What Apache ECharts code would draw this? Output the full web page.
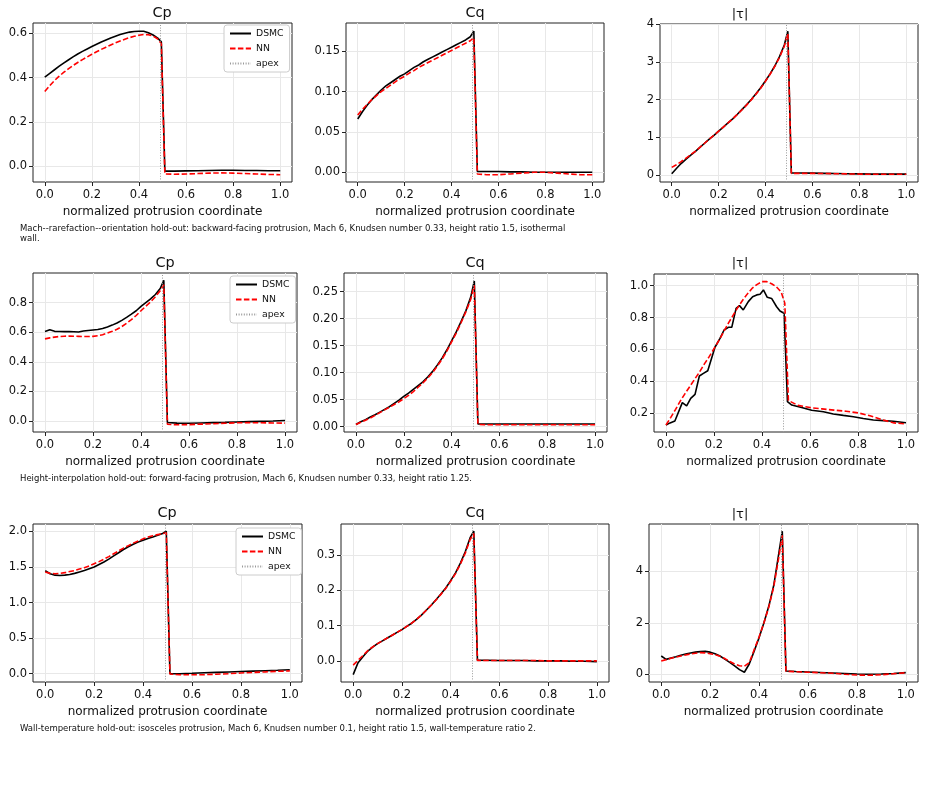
<!DOCTYPE html>
<html>
<head>
<meta charset="utf-8">
<script src="https://cdn.jsdelivr.net/npm/echarts@6.0.0/dist/echarts.min.js"></script>
<style>
  html, body { margin: 0; padding: 0; background: #fff; }
  #chart { width: 925px; height: 795px; }
</style>
</head>
<body>
<div id="chart"></div>
<script>
// shared sample positions along the surface
const xs = [0, 0.02, 0.04, 0.06, 0.08, 0.10, 0.12, 0.14, 0.16, 0.18, 0.20, 0.22, 0.24, 0.26, 0.28, 0.30, 0.32, 0.34, 0.36, 0.38, 0.40, 0.42, 0.44, 0.46, 0.48, 0.495,
  0.51, 0.55, 0.60, 0.65, 0.70, 0.75, 0.80, 0.85, 0.90, 0.95, 1.0];
const xTicks = [0, 0.2, 0.4, 0.6, 0.8, 1.0];
const apexX = [0.495, 0.494, 0.494];

// row 1 : Mach--rarefaction--orientation hold-out
const cp1Dsmc = [0.402, 0.418, 0.434, 0.450, 0.465, 0.479, 0.493, 0.506, 0.518, 0.529, 0.540, 0.550, 0.560, 0.569, 0.578, 0.586, 0.594, 0.600, 0.605, 0.608, 0.609, 0.609, 0.602, 0.592, 0.578, 0.561,
  -0.022, -0.022, -0.021, -0.020, -0.019, -0.018, -0.018, -0.019, -0.019, -0.020, -0.020];
const cp1Nn = [0.337, 0.362, 0.385, 0.405, 0.423, 0.439, 0.454, 0.468, 0.481, 0.493, 0.505, 0.516, 0.527, 0.537, 0.547, 0.556, 0.565, 0.573, 0.580, 0.586, 0.591, 0.594, 0.593, 0.587, 0.574, 0.552,
  -0.035, -0.036, -0.035, -0.033, -0.031, -0.030, -0.031, -0.033, -0.035, -0.037, -0.038];
const cq1Dsmc = [0.066, 0.075, 0.083, 0.090, 0.096, 0.102, 0.107, 0.111, 0.115, 0.119, 0.122, 0.126, 0.130, 0.133, 0.137, 0.140, 0.143, 0.146, 0.149, 0.152, 0.155, 0.158, 0.161, 0.164, 0.168, 0.175,
  0.001, 0.001, 0.001, 0.0005, 0.0005, 0.0, 0.0, 0.0, 0.0, 0.0, 0.0];
const cq1Nn = [0.071, 0.078, 0.084, 0.090, 0.095, 0.100, 0.104, 0.108, 0.112, 0.116, 0.119, 0.123, 0.126, 0.130, 0.133, 0.136, 0.139, 0.142, 0.145, 0.148, 0.151, 0.154, 0.157, 0.160, 0.163, 0.167,
  -0.002, -0.003, -0.003, -0.002, -0.001, 0.0, 0.0, -0.001, -0.002, -0.003, -0.003];
const tau1Dsmc = [0.03, 0.17, 0.30, 0.41, 0.52, 0.62, 0.73, 0.84, 0.95, 1.05, 1.16, 1.27, 1.38, 1.49, 1.61, 1.74, 1.87, 2.01, 2.16, 2.32, 2.50, 2.69, 2.90, 3.15, 3.45, 3.82,
  0.05, 0.05, 0.045, 0.04, 0.035, 0.03, 0.025, 0.02, 0.02, 0.02, 0.02];
const tau1Nn = [0.20, 0.27, 0.35, 0.44, 0.53, 0.625, 0.73, 0.84, 0.95, 1.05, 1.16, 1.27, 1.38, 1.49, 1.61, 1.73, 1.86, 2.00, 2.15, 2.31, 2.49, 2.68, 2.89, 3.13, 3.42, 3.76,
  0.04, 0.04, 0.04, 0.035, 0.03, 0.025, 0.02, 0.015, 0.015, 0.015, 0.015];

// row 2 : height-interpolation hold-out
const cp2Dsmc = [0.605, 0.617, 0.606, 0.605, 0.604, 0.605, 0.603, 0.601, 0.608, 0.612, 0.615, 0.618, 0.625, 0.636, 0.648, 0.662, 0.680, 0.700, 0.722, 0.745, 0.775, 0.800, 0.825, 0.855, 0.895, 0.951,
  -0.010, -0.014, -0.015, -0.013, -0.011, -0.009, -0.006, -0.004, -0.002, 0.0, 0.004];
const cp2Nn = [0.555, 0.562, 0.567, 0.571, 0.573, 0.574, 0.573, 0.572, 0.571, 0.571, 0.572, 0.576, 0.583, 0.594, 0.606, 0.620, 0.638, 0.660, 0.685, 0.713, 0.745, 0.775, 0.805, 0.840, 0.880, 0.920,
  -0.022, -0.025, -0.024, -0.021, -0.018, -0.015, -0.012, -0.011, -0.012, -0.013, -0.014];
const cq2Dsmc = [0.004, 0.009, 0.013, 0.018, 0.022, 0.027, 0.032, 0.037, 0.043, 0.049, 0.056, 0.062, 0.069, 0.076, 0.083, 0.092, 0.102, 0.114, 0.127, 0.142, 0.159, 0.176, 0.195, 0.215, 0.240, 0.270,
  0.005, 0.005, 0.005, 0.005, 0.005, 0.005, 0.005, 0.005, 0.005, 0.005, 0.005];
const cq2Nn = [0.004, 0.008, 0.012, 0.016, 0.021, 0.026, 0.031, 0.036, 0.041, 0.046, 0.052, 0.058, 0.065, 0.073, 0.081, 0.090, 0.100, 0.112, 0.125, 0.140, 0.157, 0.174, 0.193, 0.213, 0.236, 0.262,
  0.004, 0.0035, 0.0035, 0.0035, 0.0035, 0.0035, 0.0035, 0.0035, 0.0035, 0.0035, 0.0035];
// the DSMC shear curve here is noisy and sampled on its own positions
const tau2X = [0, 0.017, 0.037, 0.068, 0.086, 0.103, 0.121, 0.139, 0.156, 0.174, 0.204, 0.225, 0.242, 0.26, 0.274, 0.292, 0.306, 0.322, 0.343, 0.361, 0.378, 0.392, 0.406, 0.422, 0.44, 0.461, 0.475, 0.492,
  0.506, 0.524, 0.565, 0.607, 0.656, 0.697, 0.739, 0.781, 0.822, 0.864, 0.906, 0.947, 1.0];
const tau2Dsmc = [0.127, 0.14, 0.152, 0.267, 0.246, 0.294, 0.319, 0.434, 0.45, 0.467, 0.614, 0.67, 0.722, 0.739, 0.739, 0.858, 0.875, 0.848, 0.90, 0.931, 0.942, 0.946, 0.973, 0.927, 0.92, 0.868, 0.841, 0.827,
  0.273, 0.252, 0.236, 0.219, 0.21, 0.196, 0.187, 0.179, 0.168, 0.158, 0.154, 0.15, 0.141];
const tau2Nn = [0.127, 0.175, 0.225, 0.278, 0.325, 0.370, 0.415, 0.460, 0.510, 0.555, 0.605, 0.655, 0.710, 0.765, 0.815, 0.865, 0.910, 0.950, 0.985, 1.008, 1.025, 1.025, 1.012, 0.993, 0.960, 0.890,
  0.280, 0.250, 0.236, 0.228, 0.220, 0.213, 0.203, 0.185, 0.160, 0.140, 0.133];

// row 3 : wall-temperature hold-out
const cp3Dsmc = [1.447, 1.405, 1.385, 1.380, 1.385, 1.395, 1.410, 1.430, 1.450, 1.475, 1.500, 1.535, 1.570, 1.610, 1.655, 1.700, 1.745, 1.785, 1.820, 1.850, 1.875, 1.900, 1.920, 1.945, 1.970, 2.003,
  0.000, 0.000, 0.005, 0.012, 0.018, 0.024, 0.030, 0.036, 0.042, 0.048, 0.055];
const cp3Nn = [1.430, 1.410, 1.405, 1.410, 1.420, 1.435, 1.450, 1.470, 1.490, 1.515, 1.545, 1.575, 1.610, 1.645, 1.685, 1.725, 1.765, 1.800, 1.835, 1.865, 1.895, 1.920, 1.940, 1.955, 1.970, 1.980,
  -0.005, -0.015, -0.016, -0.013, -0.008, 0.0, 0.010, 0.018, 0.025, 0.033, 0.040];
const cq3Dsmc = [-0.039, -0.005, 0.012, 0.028, 0.039, 0.049, 0.057, 0.065, 0.073, 0.081, 0.089, 0.098, 0.107, 0.118, 0.130, 0.144, 0.158, 0.174, 0.190, 0.207, 0.228, 0.250, 0.278, 0.310, 0.350, 0.369,
  0.002, 0.002, 0.001, 0.001, 0.001, 0.0, 0.0, 0.0, -0.001, -0.001, -0.002];
const cq3Nn = [-0.012, 0.002, 0.015, 0.029, 0.040, 0.049, 0.057, 0.065, 0.073, 0.081, 0.089, 0.098, 0.107, 0.118, 0.130, 0.144, 0.158, 0.173, 0.189, 0.206, 0.226, 0.248, 0.275, 0.306, 0.345, 0.362,
  0.001, 0.001, 0.001, 0.001, 0.001, 0.001, 0.0, 0.0, 0.0, 0.0, 0.0];
const tau3Dsmc = [0.71, 0.58, 0.63, 0.68, 0.74, 0.79, 0.83, 0.86, 0.88, 0.89, 0.86, 0.80, 0.71, 0.59, 0.46, 0.33, 0.18, 0.08, 0.40, 0.90, 1.42, 2.00, 2.65, 3.45, 4.65, 5.56,
  0.13, 0.11, 0.09, 0.07, 0.05, 0.03, 0.01, 0.00, 0.01, 0.03, 0.065];
const tau3Nn = [0.52, 0.57, 0.62, 0.67, 0.71, 0.75, 0.79, 0.82, 0.84, 0.83, 0.80, 0.76, 0.70, 0.61, 0.50, 0.40, 0.33, 0.31, 0.45, 0.95, 1.45, 2.00, 2.62, 3.40, 4.50, 5.40,
  0.12, 0.10, 0.08, 0.06, 0.04, 0.00, -0.03, -0.04, -0.02, 0.02, 0.06];

// y tick labels
const cp1Ticks = [0, 0.2, 0.4, 0.6];
const cq1Ticks = [0, 0.05, 0.10, 0.15];
const tau1Ticks = [0, 1, 2, 3, 4];
const cp2Ticks = [0, 0.2, 0.4, 0.6, 0.8];
const cq2Ticks = [0, 0.05, 0.10, 0.15, 0.20, 0.25];
const tau2Ticks = [0.2, 0.4, 0.6, 0.8, 1.0];
const cp3Ticks = [0, 0.5, 1.0, 1.5, 2.0];
const cq3Ticks = [0, 0.1, 0.2, 0.3];
const tau3Ticks = [0, 2, 4];

const captions = [
  ['Mach--rarefaction--orientation hold-out: backward-facing protrusion, Mach 6, Knudsen number 0.33, height ratio 1.5, isothermal', 'wall.'],
  ['Height-interpolation hold-out: forward-facing protrusion, Mach 6, Knudsen number 0.33, height ratio 1.25.'],
  ['Wall-temperature hold-out: isosceles protrusion, Mach 6, Knudsen number 0.1, height ratio 1.5, wall-temperature ratio 2.']
];

const FONT = 'DejaVu Sans';

// one entry per subplot: frame [left, top, width, height], title position, y range
const panels = [
  { box: [33, 23, 259, 159], title: 'Cp', tx: 162, ty: 13, dX: xs, d: cp1Dsmc, n: cp1Nn, y: [-0.071, 0.646], ticks: cp1Ticks, dec: 1, apex: apexX[0], legend: [224, 25] },
  { box: [346, 23, 258, 159], title: 'Cq', tx: 475, ty: 13, dX: xs, d: cq1Dsmc, n: cq1Nn, y: [-0.012, 0.185], ticks: cq1Ticks, dec: 2, apex: apexX[0] },
  { box: [660, 24, 258, 158], title: '|τ|', tx: 740, ty: 15, dX: xs, d: tau1Dsmc, n: tau1Nn, y: [-0.19, 4.01], ticks: tau1Ticks, dec: 0, apex: apexX[0] },
  { box: [33, 273, 264, 159], title: 'Cp', tx: 165, ty: 263, dX: xs, d: cp2Dsmc, n: cp2Nn, y: [-0.074, 1.0], ticks: cp2Ticks, dec: 1, apex: apexX[1], legend: [230, 276] },
  { box: [344, 273, 263, 159], title: 'Cq', tx: 475, ty: 263, dX: xs, d: cq2Dsmc, n: cq2Nn, y: [-0.0099, 0.2847], ticks: cq2Ticks, dec: 2, apex: apexX[1] },
  { box: [654, 274, 264, 158], title: '|τ|', tx: 740, ty: 264, dX: tau2X, d: tau2Dsmc, n: tau2Nn, y: [0.083, 1.073], ticks: tau2Ticks, dec: 1, apex: apexX[1] },
  { box: [33, 524, 269, 158], title: 'Cp', tx: 167, ty: 513, dX: xs, d: cp3Dsmc, n: cp3Nn, y: [-0.117, 2.104], ticks: cp3Ticks, dec: 1, apex: apexX[2], legend: [236, 528] },
  { box: [341, 524, 268, 158], title: 'Cq', tx: 475, ty: 513, dX: xs, d: cq3Dsmc, n: cq3Nn, y: [-0.06, 0.389], ticks: cq3Ticks, dec: 1, apex: apexX[2] },
  { box: [649, 524, 269, 158], title: '|τ|', tx: 740, ty: 515, dX: xs, d: tau3Dsmc, n: tau3Nn, y: [-0.30, 5.84], ticks: tau3Ticks, dec: 0, apex: apexX[2] }
];

const zip = (a, b) => a.map((v, i) => [v, b[i]]);

const grid = [], xAxis = [], yAxis = [], series = [], legend = [], graphic = [];

panels.forEach((p, i) => {
  grid.push({
    left: p.box[0], top: p.box[1], width: p.box[2], height: p.box[3],
    show: true, borderColor: '#222', borderWidth: 1, backgroundColor: 'transparent'
  });
  xAxis.push({
    gridIndex: i, type: 'value', min: -0.05, max: 1.05,
    axisLine: { show: false, onZero: false },
    axisTick: { show: true, inside: false, customValues: xTicks, length: 4, lineStyle: { color: '#222' } },
    axisLabel: { customValues: xTicks, formatter: v => v.toFixed(1), fontFamily: FONT, fontSize: 11.5, color: '#111', margin: 7 },
    splitLine: { show: true, lineStyle: { color: '#e8e8e8', width: 1 } },
    name: 'normalized protrusion coordinate', nameLocation: 'middle', nameGap: 24,
    nameTextStyle: { fontFamily: FONT, fontSize: 12, color: '#111' }
  });
  yAxis.push({
    gridIndex: i, type: 'value', min: p.y[0], max: p.y[1],
    axisLine: { show: false, onZero: false },
    axisTick: { show: true, inside: false, customValues: p.ticks, length: 4, lineStyle: { color: '#222' } },
    axisLabel: { customValues: p.ticks, formatter: v => v.toFixed(p.dec), fontFamily: FONT, fontSize: 11.5, color: '#111', margin: 6 },
    splitLine: { show: true, lineStyle: { color: '#e8e8e8', width: 1 } }
  });
  series.push({
    name: 'DSMC', type: 'line', xAxisIndex: i, yAxisIndex: i,
    data: zip(p.dX, p.d), symbol: 'none', showSymbol: false, z: 3,
    lineStyle: { color: '#000', width: 1.6 }, itemStyle: { color: '#000' }
  });
  series.push({
    name: 'NN', type: 'line', xAxisIndex: i, yAxisIndex: i,
    data: zip(xs, p.n), symbol: 'none', showSymbol: false, z: 4,
    lineStyle: { color: '#ff0000', width: 1.6, type: [5.5, 2.4] }, itemStyle: { color: '#ff0000' }
  });
  series.push({
    name: 'apex', type: 'line', xAxisIndex: i, yAxisIndex: i,
    data: [], symbol: 'none', z: 2,
    lineStyle: { color: '#999', width: 1, type: [1, 1.6] }, itemStyle: { color: '#999' },
    markLine: {
      silent: true, symbol: ['none', 'none'], label: { show: false },
      lineStyle: { color: '#999', width: 1, type: [1, 1.6] },
      data: [{ xAxis: p.apex }]
    }
  });
  if (p.legend) {
    legend.push({
      data: ['DSMC', 'NN', 'apex'], orient: 'vertical',
      left: p.legend[0], top: p.legend[1],
      itemWidth: 21, itemHeight: 10, itemGap: 6,
      padding: [4, 6, 4, 5],
      itemStyle: { opacity: 0 },
      backgroundColor: '#fff', borderColor: '#ccc', borderWidth: 1, borderRadius: 3,
      textStyle: { fontFamily: FONT, fontSize: 9.3, color: '#111' },
      selectedMode: false
    });
  }
  graphic.push({
    type: 'text', x: p.tx, y: p.ty,
    style: { text: p.title, fontFamily: FONT, fontSize: p.title === '|τ|' ? 13 : 14.4, fill: '#111', textAlign: 'center', textVerticalAlign: 'middle' }
  });
});

const captionY = [229, 479, 729];
captions.forEach((lines, r) => {
  lines.forEach((t, k) => {
    graphic.push({
      type: 'text', x: 20, y: captionY[r] + k * 10,
      style: { text: t, fontFamily: FONT, fontSize: 8.5, fill: '#111', textVerticalAlign: 'middle' }
    });
  });
});

const chart = echarts.init(document.getElementById('chart'), null, { renderer: 'canvas' });
chart.setOption({
  backgroundColor: '#fff',
  animation: false,
  grid, xAxis, yAxis, series, legend, graphic
});
</script>
</body>
</html>
